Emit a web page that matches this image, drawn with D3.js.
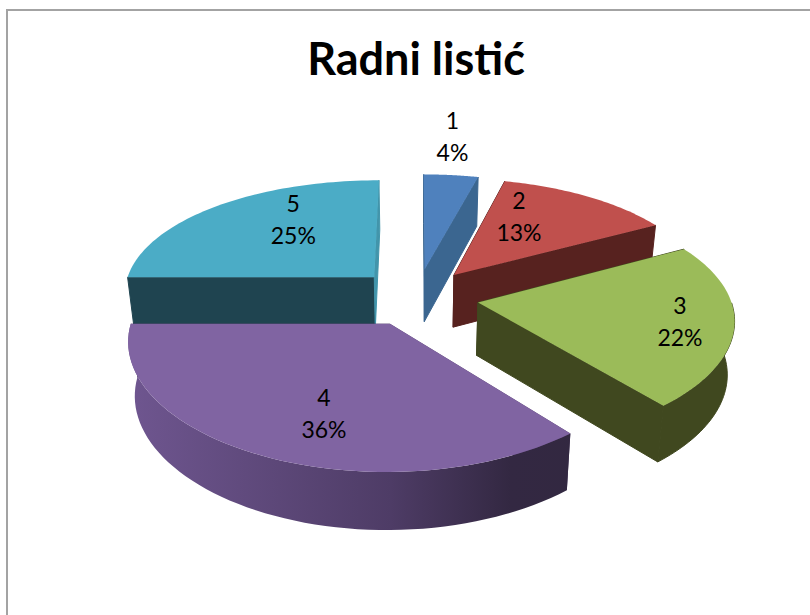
<!DOCTYPE html>
<html><head><meta charset="utf-8">
<script src="https://cdn.jsdelivr.net/npm/d3@7/dist/d3.min.js"></script>
<style>html,body{margin:0;padding:0;background:#fff;overflow:hidden}svg{display:block}</style>
</head><body><svg id="c" width="810" height="615"></svg>
<script>
const title = "Radni listić";
const categories = ["1","2","3","4","5"];
const shares = [4,13,22,36,25];
const topColors = ["#4f81bd","#c0504d","#9bbb59","#8064a2","#4bacc6"];
const wallColors = ["#3b6690","#57221f","#40481f","#4f3d66","#1f4450"];
const endWallColors = ["#3b6690","#57221f","#40481f","#322840","#4295ab"];
const labelDx = [28,65,202,-66,-81];
const labelDy = [-133,-58,20,90,-57];
const drawOrder = [0,1,4,2,3];

const cx=417, cy=297, rx=252, ry=117, kx=0.125, ky=0.15, explode=0.245, depth=52, shrink=0.977;
const xs = d3.scaleLinear().domain([0,1]).range([cx,cx+rx]);
const ys = d3.scaleLinear().domain([0,1]).range([cy,cy+ry]);
function proj(u,v,low){
  let x = xs(u/(1-kx*v)), y = ys(v/(1-ky*v));
  if(low){ x = cx+(x-cx)*shrink; y = y+depth+(y-270)*0.03; }
  return [x,y];
}
const pie = d3.pie().sort(null).value(d=>d)(shares);
const svg = d3.select("#c");
const defs = svg.append("defs");
const g4 = defs.append("linearGradient").attr("id","wall4").attr("gradientUnits","userSpaceOnUse")
  .attr("x1",xs(-1.15)).attr("x2",xs(0.75)).attr("y1",0).attr("y2",0);
g4.append("stop").attr("offset",0).attr("stop-color","#6f5690");
g4.append("stop").attr("offset",0.55).attr("stop-color","#4e3c66");
g4.append("stop").attr("offset",0.8).attr("stop-color","#332842");
g4.append("stop").attr("offset",1).attr("stop-color","#322840");

svg.append("rect").attr("x",7).attr("y",10).attr("width",900).attr("height",800)
  .attr("fill","#fff").attr("stroke","#a3a3a3").attr("stroke-width",2);
svg.append("text").attr("x",416).attr("y",75).attr("text-anchor","middle")
  .style("font","700 45px Lato").attr("fill","#000").text(title);

const line = d3.line();
drawOrder.forEach(i=>{
  const s = pie[i], mid=(s.startAngle+s.endAngle)/2;
  const ou=explode*Math.sin(mid), ov=-explode*Math.cos(mid);
  const pt=(a,r,low)=>proj(ou+r*Math.sin(a), ov-r*Math.cos(a), low);
  const angles=d3.range(0,61).map(t=>s.startAngle+(s.endAngle-s.startAngle)*t/60);
  const front=angles.filter(a=>Math.cos(a)<=0);
  const apexT=pt(0,0,false), apexL=pt(0,0,true);
  const g=svg.append("g");
  const wallFill = i===3 ? "url(#wall4)" : wallColors[i];
  const seam = i===3 ? "none" : wallColors[i];
  g.append("path").attr("d",line([apexT,pt(angles[0],1,false),pt(angles[0],1,true),apexL])+"Z")
    .attr("fill", wallColors[i]).attr("stroke",seam).attr("stroke-width",1);
  g.append("path").attr("d",line([apexT,pt(angles[60],1,false),pt(angles[60],1,true),apexL])+"Z")
    .attr("fill", endWallColors[i]).attr("stroke",i===3?"none":endWallColors[i]).attr("stroke-width",1);
  if(front.length>1){
    const arcTop=front.map(a=>pt(a,1,false)), arcLow=front.map(a=>pt(a,1,true));
    g.append("path").attr("d",line(arcTop.concat(arcLow.slice().reverse()))+"Z")
      .attr("fill",wallFill).attr("stroke",seam).attr("stroke-width",1);
  }
  g.append("path").attr("d",line([apexT].concat(angles.map(a=>pt(a,1,false))))+"Z").attr("fill",topColors[i]);
});
categories.forEach((c,i)=>{
  const s=pie[i], mid=(s.startAngle+s.endAngle)/2;
  const a=proj(explode*Math.sin(mid),-explode*Math.cos(mid),false);
  const t=svg.append("text").attr("text-anchor","middle").style("font","400 23px Lato").attr("fill","#000");
  t.append("tspan").attr("x",a[0]+labelDx[i]).attr("y",a[1]+labelDy[i]-8).text(c);
  t.append("tspan").attr("x",a[0]+labelDx[i]).attr("y",a[1]+labelDy[i]+24).text(shares[i]+"%");
});
</script></body></html>
